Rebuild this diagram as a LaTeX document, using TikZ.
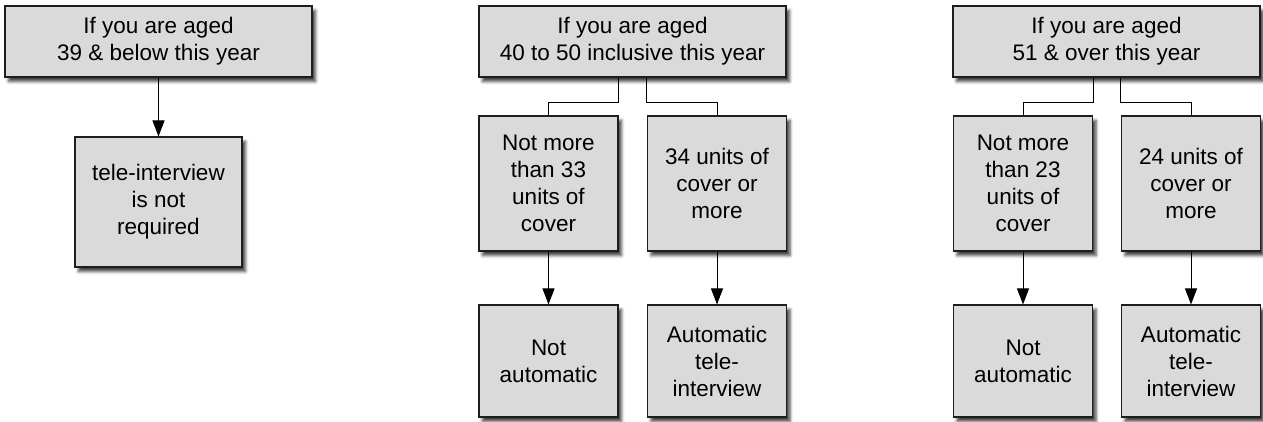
\documentclass[tikz,border=0pt]{standalone}
\usepackage{fontspec}
\setmainfont{Liberation Sans}
\usetikzlibrary{arrows.meta,shadows.blur}
\definecolor{boxfill}{RGB}{218,218,218}
\definecolor{boxline}{RGB}{30,30,30}
\tikzset{
  box/.style={draw=boxline, line width=1.1pt, fill=boxfill, align=center, inner sep=0pt,
    font=\fontsize{22.5}{27}\selectfont,
    blur shadow={shadow xshift=3.5pt, shadow yshift=-4.5pt, shadow blur radius=3pt, shadow opacity=75}},
  topbox/.style={box, minimum width=307pt, minimum height=71pt},
  midbox/.style={box, minimum width=139pt, minimum height=135pt},
  lowbox/.style={box, minimum width=139pt, minimum height=112pt},
  conn/.style={line width=1pt, draw=black},
  arr/.style={conn, -{Triangle[length=16pt,width=12pt]}}
}
\begin{document}
\begin{tikzpicture}[x=1pt,y=-1pt]
\useasboundingbox (0,0) rectangle (1263,421);
% left group
\node[topbox] (atop) at (158.5,41.5) {If you are aged\\39 \& below this year};
\node[box, minimum width=167pt, minimum height=130pt] (anot) at (158.5,202) {tele-interview\\is not\\required};
\draw[arr] (atop) -- (anot);
% middle group
\node[topbox] (btop) at (632.5,41.5) {If you are aged\\40 to 50 inclusive this year};
\node[midbox] (bml) at (548.5,183.5) {Not more\\than 33\\units of\\cover};
\node[midbox] (bmr) at (717,183.5) {34 units of\\cover or\\more};
\node[lowbox] (bbl) at (548.5,361) {Not\\automatic};
\node[lowbox] (bbr) at (717,361) {Automatic\\tele-\\interview};
\draw[conn] (btop.south -| bml.east) -- ++(0,25) -| (bml.north);
\draw[conn] (btop.south -| bmr.west) -- ++(0,25) -| (bmr.north);
\draw[arr] (bml) -- (bbl);
\draw[arr] (bmr) -- (bbr);
% right group
\node[topbox] (ctop) at (1106.5,41.5) {If you are aged\\51 \& over this year};
\node[midbox] (cml) at (1023,183.5) {Not more\\than 23\\units of\\cover};
\node[midbox] (cmr) at (1191,183.5) {24 units of\\cover or\\more};
\node[lowbox] (cbl) at (1023,361) {Not\\automatic};
\node[lowbox] (cbr) at (1191,361) {Automatic\\tele-\\interview};
\draw[conn] (ctop.south -| cml.east) -- ++(0,25) -| (cml.north);
\draw[conn] (ctop.south -| cmr.west) -- ++(0,25) -| (cmr.north);
\draw[arr] (cml) -- (cbl);
\draw[arr] (cmr) -- (cbr);
\end{tikzpicture}
\end{document}
